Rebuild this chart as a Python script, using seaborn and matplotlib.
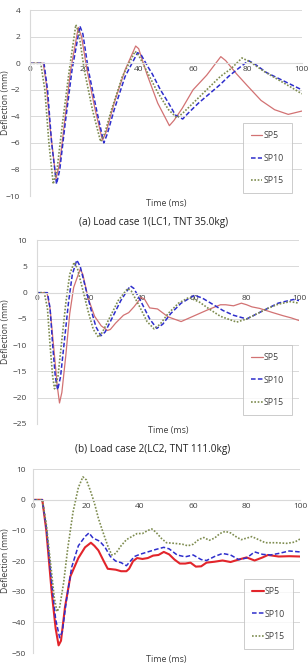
import numpy as np
import pandas as pd
import matplotlib
matplotlib.use("Agg")
import matplotlib.pyplot as plt
import seaborn as sns

## Data (time in ms, deflection in mm)

# Load case 1
lc1_sp5_t = [0, 4.9, 6, 7.5, 9.6, 11, 13, 15, 17.8, 19, 21, 24, 26.7, 28, 31, 35, 38.9, 40, 43, 47, 51.3, 53, 56,
             60, 65, 70.2, 72, 76, 80, 85, 90, 95, 97, 100]
lc1_sp5_y = [0, 0, -1.5, -5, -8.7, -7.5, -4, -0.5, 2.7, 2.0, -0.5, -3.5, -5.8, -5.2, -3, -0.5, 1.3, 1.1, -0.8, -3,
             -4.7, -4.3, -3.4, -2.0, -0.9, 0.5, 0.2, -0.8, -1.7, -2.8, -3.5, -3.85, -3.75, -3.6]
lc1_sp10_t = [0, 5.2, 6.5, 8, 9.8, 11, 13, 15.5, 18.4, 19.5, 21.5, 24.5, 27.2, 28.5, 31, 35, 39.6, 41, 43.5, 45,
              48, 51, 53.5, 56.2, 58, 62, 66, 70, 73, 76, 80.4, 83, 87, 92, 96, 100]
lc1_sp10_y = [0, 0, -2, -6, -9.1, -8, -4.5, -0.5, 2.8, 2.2, -0.5, -3.5, -6.0, -5.3, -3.5, -1, 0.8, 0.6, -0.3, -0.8,
              -2.0, -3.0, -3.9, -4.2, -3.8, -3.0, -2.3, -1.6, -1.0, -0.5, 0.2, -0.1, -0.7, -1.2, -1.6, -2.0]
lc1_sp15_t = [0, 4, 5.5, 7, 8.6, 10, 12, 14.5, 16.9, 18, 20, 23, 26, 27.5, 30, 34, 38.7, 40, 43, 47, 51, 54, 56,
              60, 65, 70, 74, 78, 81, 86, 91, 96, 100]
lc1_sp15_y = [0, 0, -2, -6, -9.1, -8, -4.5, -0.5, 2.9, 2.3, -0.5, -3.5, -5.9, -5.3, -3.5, -1, 0.9, 0.6, -0.6, -2.2,
              -3.5, -4.1, -3.8, -3.0, -2.0, -1.0, -0.4, 0.4, 0.1, -0.6, -1.2, -1.8, -2.3]

# Load case 2
lc2_sp5_t = [0, 3.8, 5, 6.5, 7.8, 8.6, 9.5, 11, 12.5, 14, 16.5, 17.5, 19.5, 22, 24.5, 26.9, 28, 30, 33, 35, 37,
             39.8, 41, 43, 46, 50, 55, 60, 65, 70, 72, 75, 78, 80, 82, 85, 90, 94, 97, 100]
lc2_sp5_y = [0, 0, -3, -11, -18, -21, -19, -12, -4, 1, 4.5, 3.5, -1, -4.5, -6.3, -7.2, -7, -5.8, -4.3, -3.8,
             -2.7, -0.9, -1.2, -2.9, -3.1, -4.6, -5.5, -4.4, -3.3, -2.3, -2.3, -2.5, -2.0, -2.3, -2.7, -3.0,
             -3.8, -4.4, -4.8, -5.3]
lc2_sp10_t = [0, 4, 5, 6, 7, 7.9, 9, 10.5, 12, 13.5, 15.2, 16.5, 18.5, 20.5, 22.5, 24.4, 26, 29, 32, 35.6, 37, 40,
              43, 45.7, 48, 51, 55, 60.1, 63, 67, 71, 75, 80, 84, 88, 92, 97.8, 100]
lc2_sp10_y = [0, 0, -3, -10, -16, -18.5, -16, -9, -2, 3.5, 6.2, 5, 1, -3, -6.5, -8.2, -7.5, -4.5, -1.5, 1.3, 0.8,
              -2, -5, -6.8, -6, -4, -2, -0.5, -1, -2.2, -3.4, -4.3, -5, -4, -3, -2, -1.3, -1.5]
lc2_sp15_t = [0, 2.8, 4, 5, 6, 6.7, 8, 9.5, 11, 12.5, 14.2, 15.5, 17.5, 19.5, 21.5, 23.5, 25, 28, 31, 34.6, 36, 39,
              42, 44.7, 47, 50, 54, 58, 62, 66, 70, 76.2, 80, 84, 88, 92, 96.6, 100]
lc2_sp15_y = [0, 0, -3, -10, -16, -18.3, -16, -9, -2, 3.5, 5.8, 4.5, 0.5, -3.5, -7, -8.5, -7.5, -4.5, -1.5, 0.8,
              0.3, -2.5, -5.5, -6.9, -6, -4, -2, -0.9, -1.8, -3.2, -4.5, -5.6, -5, -4, -3, -2.2, -1.7, -2]

# Load case 3
lc3_sp5_t = [0, 3.5, 5, 7, 8.5, 9.6, 10.5, 12, 14, 17, 19.5, 21.7, 23, 24.5, 26.5, 28, 31, 33, 35, 36, 37.5, 39,
             41, 43, 45, 47, 49, 51, 53, 55, 57, 59, 61, 63, 65, 68, 71, 74, 77, 80, 83, 86, 88, 92, 96, 100]
lc3_sp5_y = [0, 0, -10, -30, -42, -47.5, -46, -35, -25, -19, -15.5, -14, -15, -16.5, -20, -22.5, -22.8, -23.3,
             -23.3, -22.5, -20, -19, -19.3, -19, -18.2, -18, -17, -17.8, -19.5, -20.8, -20.8, -20.5, -21.8, -21.7,
             -20.5, -20.2, -19.8, -20.3, -19.5, -18.8, -19.8, -18.8, -18, -18.5, -18.4, -18.5]
lc3_sp10_t = [0, 3.5, 5, 7, 8.5, 10, 11, 12.5, 14.5, 17, 19.5, 21, 22.5, 25, 27, 29, 31, 33, 35, 36.5, 38, 40, 43,
              46, 49, 51, 54, 57, 60, 63, 65, 68, 71, 74, 77, 80, 83, 86, 89, 92, 96, 100]
lc3_sp10_y = [0, 0, -9, -27, -39, -45, -43, -33, -22, -15, -12, -10.8, -12.5, -13.5, -15.5, -18.5, -20, -20.5,
              -21.5, -20, -18.5, -17.8, -17, -16.2, -15.5, -16, -18, -18.6, -18, -19.5, -19.8, -18.5, -17.5, -18,
              -19.5, -19, -17, -17.8, -18, -17.5, -16.7, -17]
lc3_sp15_t = [0, 3.5, 5, 6.5, 8, 9, 10, 11.5, 13, 15, 17, 18.7, 20, 21.5, 23, 24.5, 26, 28, 29.5, 31, 33, 35, 37,
              39, 41, 43, 44.5, 46, 48, 50, 53, 56, 58, 60, 62, 64, 66, 68, 70, 72, 74, 76, 78, 80, 82, 84, 87,
              91, 95, 98, 100]
lc3_sp15_y = [0, 0, -8, -20, -32, -36.5, -35, -27, -16, -4, 4, 7.5, 6.5, 3, -1, -6, -10, -15, -18, -17.5, -15,
              -13, -12, -11, -11, -10, -9.5, -10.5, -12.5, -14, -14.2, -14.5, -15, -14.5, -13, -12.3, -13.2,
              -12.5, -11, -10.3, -10.8, -12, -13, -12.5, -12, -12.8, -14, -14, -14.2, -13.8, -12.8]

x_ticks = [0, 20, 40, 60, 80, 100]
captions = ['(a) Load case 1(LC1, TNT 35.0kg)', '(b) Load case 2(LC2, TNT 111.0kg)', None]

## Style
sns.set_style("white")
plt.rcParams['font.family'] = ['Open Sans', 'DejaVu Sans']
text_col = '#404040'
grid_col = '#D9D9D9'

fig = plt.figure(figsize=(3.08, 6.66), dpi=100)

panels = [
    dict(rect=[0.097, 0.7057, 0.883, 0.279], ylim=(-10, 4), step=2, ypad=7,
         sp5=(lc1_sp5_t, lc1_sp5_y), sp10=(lc1_sp10_t, lc1_sp10_y), sp15=(lc1_sp15_t, lc1_sp15_y),
         sp5_col='#D27273', sp5_lw=0.9, leg=(0.963, 0.392)),
    dict(rect=[0.120, 0.3634, 0.851, 0.276], ylim=(-25, 10), step=5, ypad=7,
         sp5=(lc2_sp5_t, lc2_sp5_y), sp10=(lc2_sp10_t, lc2_sp10_y), sp15=(lc2_sp15_t, lc2_sp15_y),
         sp5_col='#D27273', sp5_lw=0.9, leg=(0.973, 0.429)),
    dict(rect=[0.107, 0.0195, 0.867, 0.276], ylim=(-50, 10), step=10, ypad=5.5,
         sp5=(lc3_sp5_t, lc3_sp5_y), sp10=(lc3_sp10_t, lc3_sp10_y), sp15=(lc3_sp15_t, lc3_sp15_y),
         sp5_col='#E2252B', sp5_lw=1.5, leg=(0.974, 0.402)),
]

for i, p in enumerate(panels):
    ax = fig.add_axes(p['rect'])
    sns.lineplot(x=p['sp5'][0], y=p['sp5'][1], ax=ax, color=p['sp5_col'], lw=p['sp5_lw'], label='SP5')
    sns.lineplot(x=p['sp10'][0], y=p['sp10'][1], ax=ax, color='#2E2ECC', lw=1.1, linestyle=(0, (3, 1.5)),
                 label='SP10')
    sns.lineplot(x=p['sp15'][0], y=p['sp15'][1], ax=ax, color='#7E8C50', lw=1.2, linestyle=(0, (1, 1)),
                 label='SP15')

    ax.set_xlim(0, 100)
    ax.set_ylim(*p['ylim'])
    ax.set_xticks(x_ticks)
    ax.set_yticks(np.arange(p['ylim'][0], p['ylim'][1] + 0.1, p['step']))
    ax.yaxis.grid(True, color=grid_col, lw=0.7)
    ax.set_axisbelow(True)
    ax.spines['bottom'].set_position(('data', 0))
    ax.spines['bottom'].set_color(grid_col)
    ax.spines['left'].set_color(grid_col)
    ax.spines['top'].set_visible(False)
    ax.spines['right'].set_visible(False)
    ax.tick_params(length=0, labelsize=6, colors=text_col, pad=2)
    ax.tick_params(axis='y', pad=p['ypad'])
    ax.set_xlabel('')
    ax.set_ylabel('')

    ax.text(0.5, -0.038, 'Time (ms)', transform=ax.transAxes, ha='center', va='center',
            fontsize=6.4, color=text_col)
    # y label sits near the left figure edge, centred on the panel
    fig.text(0.017, p['rect'][1] + p['rect'][3] / 2, 'Deflection (mm)', rotation=90, ha='center',
             va='center', fontsize=6.2, color=text_col)
    if captions[i]:
        fig.text(0.497, p['rect'][1] - 0.14 * p['rect'][3], captions[i], ha='center', va='center',
                 fontsize=7.2, color='#222222')

    leg = ax.legend(loc='upper right', bbox_to_anchor=p['leg'], borderaxespad=0, fontsize=6.3,
                    labelspacing=1.55, handlelength=1.3, handletextpad=0.15, borderpad=0.9,
                    frameon=True, fancybox=False, edgecolor='#BFBFBF')
    leg.get_frame().set_linewidth(0.7)
    for t in leg.get_texts():
        t.set_color(text_col)

fig.savefig('out.png', dpi=100)
